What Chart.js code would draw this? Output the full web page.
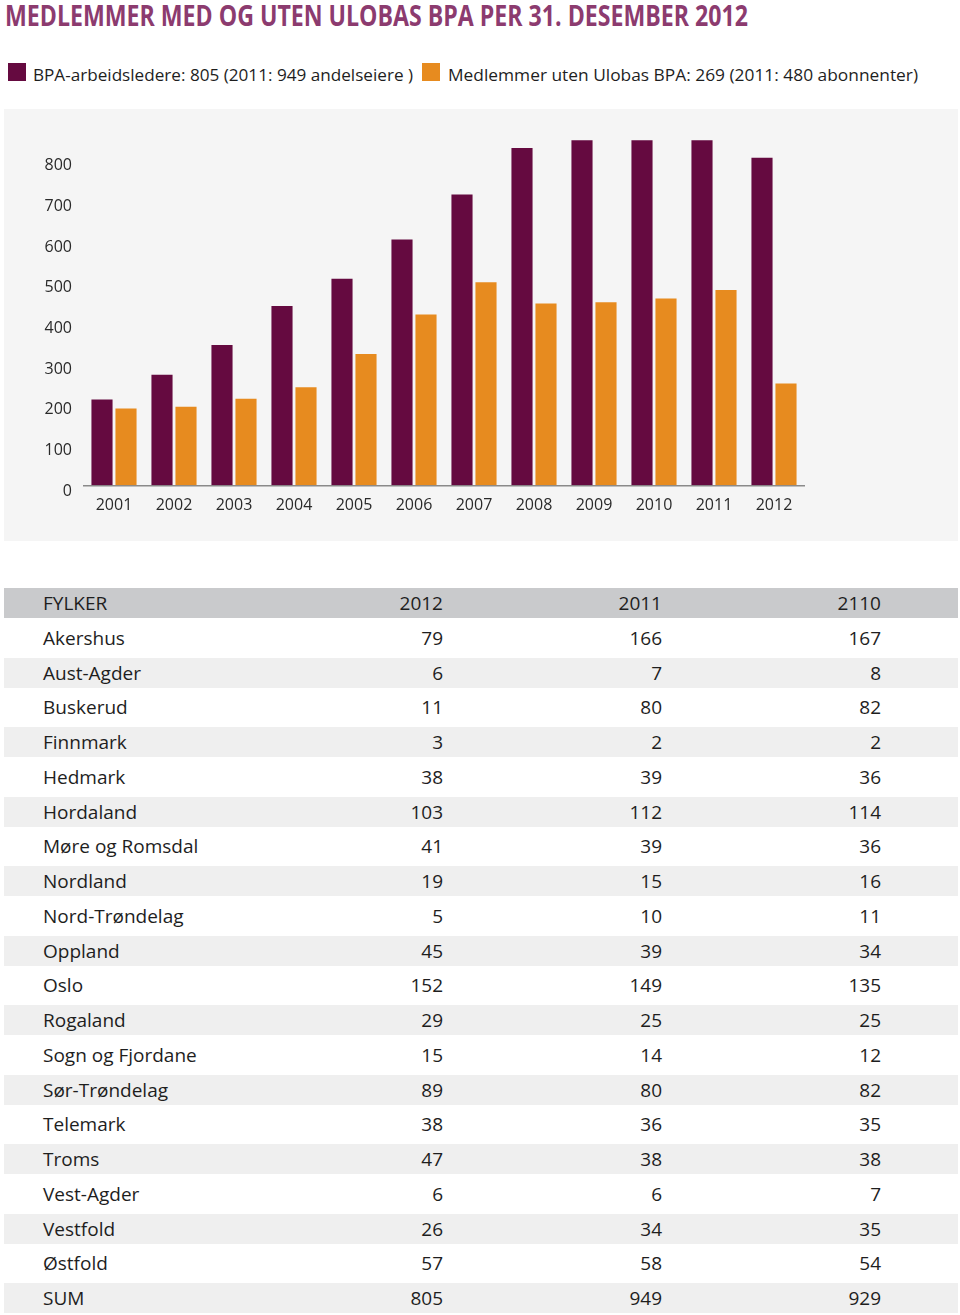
<!DOCTYPE html>
<html><head><meta charset="utf-8">
<script src="https://cdn.jsdelivr.net/npm/chart.js@4"></script>
<style>
body{margin:0;background:#fff;width:960px;height:1315px;position:relative;overflow:hidden;font-family:"Open Sans",sans-serif;color:#1e1e1e}
#title{position:absolute;left:5px;top:1px;font-size:28px;line-height:28px;font-weight:700;color:#8c3b6f;white-space:nowrap;transform-origin:0 0}
.sw{position:absolute;width:18px;height:18px;top:63px}
.lt{position:absolute;top:66px;font-size:17px;line-height:17px;white-space:nowrap;transform-origin:0 0;color:#1e1e1e}
#panel{position:absolute;left:4px;top:109px;width:954px;height:432px;background:#f5f5f5}
#chart{position:absolute;left:0;top:0}
#tbl{position:absolute;left:4px;top:588px;width:954px;height:720px}
.row{position:absolute;left:0;width:954px;height:30px}
.row.g{background:#efefef}
.row.h{background:#c9cacc}
.row span{position:absolute;top:0;line-height:30px;font-size:19px;white-space:nowrap;color:#1e1e1e}
</style></head>
<body>
<div id="title" data-fit="743">MEDLEMMER MED OG UTEN ULOBAS BPA PER 31. DESEMBER 2012</div>
<div class="sw" style="left:8px;background:#650a40"></div>
<div class="lt" style="left:33px" data-fit="380">BPA-arbeidsledere: 805 (2011: 949 andelseiere )</div>
<div class="sw" style="left:422px;background:#e78b1f"></div>
<div class="lt" style="left:448px" data-fit="470">Medlemmer uten Ulobas BPA: 269 (2011: 480 abonnenter)</div>
<div id="panel"><canvas id="chart" width="954" height="432"></canvas></div>
<div id="tbl"></div>
<script>
// Chart data
const years = ['2001','2002','2003','2004','2005','2006','2007','2008','2009','2010','2011','2012'];
const bpaLeaders = [211, 272, 345, 441, 508, 604, 715, 829, 848, 848, 848, 805];
const withoutBpa = [189, 193, 213, 241, 323, 420, 499, 447, 450, 459, 480, 250];
const yTicks = [0, 100, 200, 300, 400, 500, 600, 700, 800];

// Table data
const tableHeader = ['FYLKER', '2012', '2011', '2110'];
const counties = ['Akershus','Aust-Agder','Buskerud','Finnmark','Hedmark','Hordaland','Møre og Romsdal','Nordland','Nord-Trøndelag','Oppland','Oslo','Rogaland','Sogn og Fjordane','Sør-Trøndelag','Telemark','Troms','Vest-Agder','Vestfold','Østfold','SUM'];
const col2012 = [79, 6, 11, 3, 38, 103, 41, 19, 5, 45, 152, 29, 15, 89, 38, 47, 6, 26, 57, 805];
const col2011 = [166, 7, 80, 2, 39, 112, 39, 15, 10, 39, 149, 25, 14, 80, 36, 38, 6, 34, 58, 949];
const col2110 = [167, 8, 82, 2, 36, 114, 36, 16, 11, 34, 135, 25, 12, 82, 35, 38, 7, 35, 54, 929];

const tbl = document.getElementById('tbl');
function addRow(i, cells, cls) {
  const r = document.createElement('div');
  r.className = 'row' + (cls ? ' ' + cls : '');
  r.style.top = (i * 34.75) + 'px';
  const pos = ['left:39px', 'right:515px', 'right:296px', 'right:77px'];
  cells.forEach((c, k) => {
    const s = document.createElement('span');
    s.style.cssText = pos[k];
    s.textContent = c;
    r.appendChild(s);
  });
  tbl.appendChild(r);
}
addRow(0, tableHeader, 'h');
counties.forEach((c, i) => addRow(i + 1, [c, col2012[i], col2011[i], col2110[i]], (i + 1) % 2 === 0 ? 'g' : ''));

function fit() {
  document.querySelectorAll('[data-fit]').forEach(el => {
    el.style.transform = 'none';
    const w = el.getBoundingClientRect().width;
    const t = +el.dataset.fit;
    el.style.transform = 'scaleX(' + (t / w) + ')';
  });
}
fit();

const font = {family: 'Open Sans', size: 16};
new Chart(document.getElementById('chart'), {
  type: 'bar',
  data: {
    labels: years,
    datasets: [
      {label: 'BPA-arbeidsledere', data: bpaLeaders, backgroundColor: '#650a40', categoryPercentage: 0.8, barPercentage: 0.88},
      {label: 'Medlemmer uten Ulobas BPA', data: withoutBpa, backgroundColor: '#e78b1f', categoryPercentage: 0.8, barPercentage: 0.88}
    ]
  },
  options: {
    responsive: false,
    animation: false,
    layout: {padding: {left: 0, right: 154, top: 30.5, bottom: 14.5}},
    plugins: {legend: {display: false}, tooltip: {enabled: false}},
    scales: {
      x: {
        grid: {display: false, drawTicks: false},
        border: {display: true, color: '#8a8a8a', width: 1.5},
        ticks: {padding: 11, font: font, color: '#2a2a2a', maxRotation: 0}
      },
      y: {
        min: 0, max: 850,
        grid: {display: false, drawTicks: false},
        border: {display: false},
        afterBuildTicks(s) { s.ticks = yTicks.map(v => ({value: v})); },
        afterFit(s) { s.width = 80; },
        ticks: {padding: 12, labelOffset: 6, font: font, color: '#2a2a2a'}
      }
    }
  }
});
</script>
</body></html>
